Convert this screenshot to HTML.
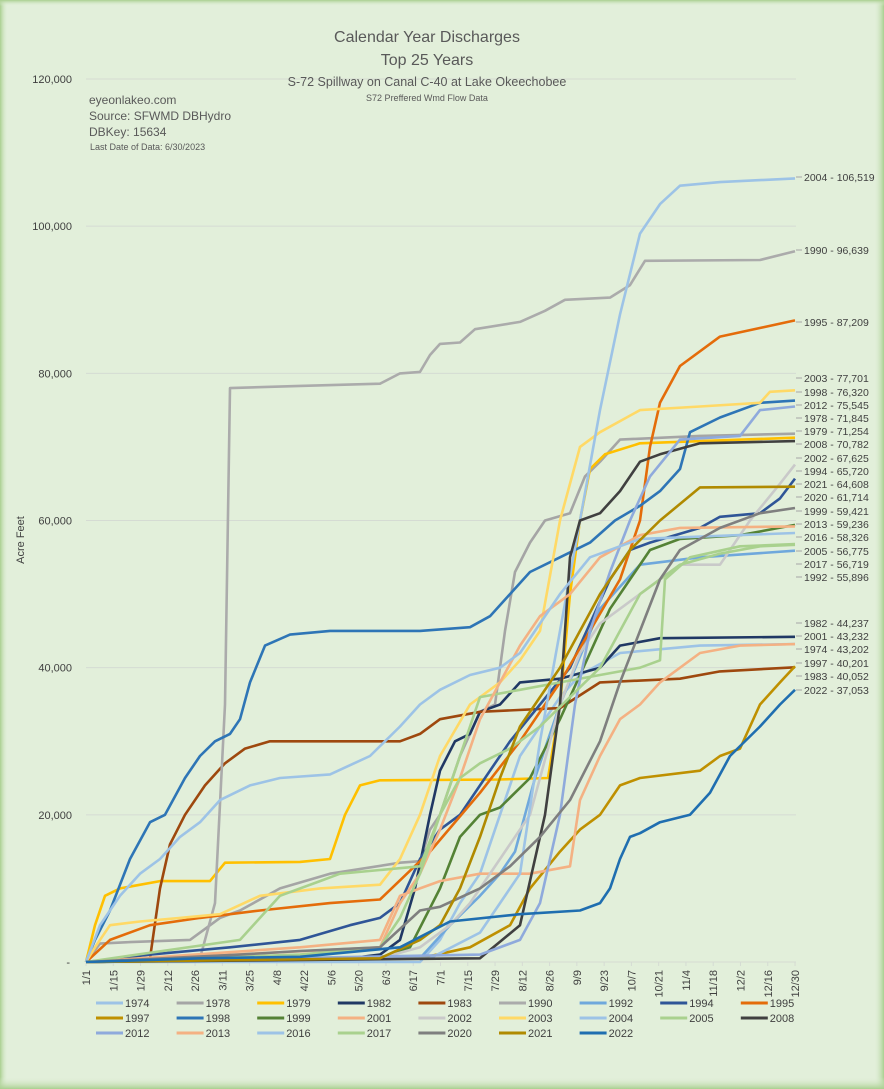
<!DOCTYPE html>
<html><head><meta charset="utf-8"><style>
html,body{margin:0;padding:0;background:#e2efda;}
body{width:884px;height:1089px;overflow:hidden;}
svg{display:block;font-family:"Liberation Sans",sans-serif;}
</style></head><body>
<svg id="c" width="884" height="1089" xmlns="http://www.w3.org/2000/svg">
<defs>
<linearGradient id="gl" x1="0" x2="1"><stop offset="0" stop-color="#a9cf8f"/><stop offset="1" stop-color="#e2efda" stop-opacity="0"/></linearGradient>
<linearGradient id="gr" x1="1" x2="0"><stop offset="0" stop-color="#a9cf8f"/><stop offset="1" stop-color="#e2efda" stop-opacity="0"/></linearGradient>
<linearGradient id="gt" y1="0" y2="1" x1="0" x2="0"><stop offset="0" stop-color="#a9cf8f"/><stop offset="1" stop-color="#e2efda" stop-opacity="0"/></linearGradient>
<linearGradient id="gb" y1="1" y2="0" x1="0" x2="0"><stop offset="0" stop-color="#a9cf8f"/><stop offset="1" stop-color="#e2efda" stop-opacity="0"/></linearGradient>
</defs>
<rect width="884" height="1089" fill="#e2efda"/>
<rect x="0" y="0" width="8" height="1089" fill="url(#gl)"/>
<rect x="874" y="0" width="10" height="1089" fill="url(#gr)"/>
<rect x="0" y="0" width="884" height="6" fill="url(#gt)"/>
<rect x="0" y="1077" width="884" height="12" fill="url(#gb)"/>
<g id="grid"></g>
<text x="427" y="42" font-size="16" fill="#595959" text-anchor="middle">Calendar Year Discharges</text>
<text x="427" y="65" font-size="16" fill="#595959" text-anchor="middle">Top 25 Years</text>
<text x="427" y="86" font-size="12.5" fill="#595959" text-anchor="middle">S-72 Spillway on Canal C-40 at Lake Okeechobee</text>
<text x="427" y="101" font-size="9" fill="#595959" text-anchor="middle">S72 Preffered Wmd Flow Data</text>
<text x="89" y="104" font-size="12" fill="#595959">eyeonlakeo.com</text>
<text x="89" y="120" font-size="12" fill="#595959">Source: SFWMD DBHydro</text>
<text x="89" y="136" font-size="12" fill="#595959">DBKey: 15634</text>
<text x="90" y="150" font-size="9" fill="#595959">Last Date of Data: 6/30/2023</text>
<text transform="translate(24,540) rotate(-90)" font-size="11" fill="#404040" text-anchor="middle">Acre Feet</text>
<g id="series"></g>
<g id="labels"></g>
<g id="legend"></g>
</svg>
<script>
const NS="http://www.w3.org/2000/svg";
function el(t,a,p,txt){const e=document.createElementNS(NS,t);for(const k in a)e.setAttribute(k,a[k]);if(txt!==undefined)e.textContent=txt;document.getElementById(p).appendChild(e);return e;}
const Y=k=>962-k*7.358;
// grid
const yl=["-","20,000","40,000","60,000","80,000","100,000","120,000"];
for(let i=0;i<=6;i++){const y=962-i*147.17;
 el("line",{x1:86,x2:796,y1:y,y2:y,stroke:"#d5dbd3","stroke-width":1},"grid");
 el("text",{x:i?72:70,y:y+4,"font-size":11,fill:"#404040","text-anchor":"end"},"grid",yl[i]);}
const xl=["1/1","1/15","1/29","2/12","2/26","3/11","3/25","4/8","4/22","5/6","5/20","6/3","6/17","7/1","7/15","7/29","8/12","8/26","9/9","9/23","10/7","10/21","11/4","11/18","12/2","12/16","12/30"];
for(let i=0;i<27;i++){const x=86+i*27.27;
 el("line",{x1:x,x2:x,y1:962,y2:966,stroke:"#d5dbd3"},"grid");
 el("text",{transform:`translate(${x+4},${970}) rotate(-90)`,"font-size":11,fill:"#404040","text-anchor":"end"},"grid",xl[i]);}
const S=[
["1974","#9dc3e6",[[86,0],[420,0],[440,3],[460,8],[480,12],[500,20],[520,28],[540,32],[560,36],[580,39],[620,42],[700,43],[795,43.2]]],
["1978","#a5a5a5",[[86,0],[100,2.5],[130,2.7],[190,3],[220,6],[240,7],[280,10],[330,12],[400,13.5],[420,13.7],[430,18],[440,20],[460,28],[480,34],[495,35],[505,45],[515,53],[530,57],[545,60],[570,61],[585,66],[600,68],[620,71],[700,71.5],[795,71.8]]],
["1979","#ffc000",[[86,0],[95,5],[105,9],[120,10],[160,11],[210,11],[225,13.5],[300,13.6],[330,14],[345,20],[360,24],[380,24.7],[500,24.8],[548,25],[560,35],[570,50],[580,60],[590,67],[605,69],[640,70.5],[795,71.25]]],
["1982","#203864",[[86,0],[350,0.5],[380,1],[400,3],[415,10],[430,20],[440,26],[455,30],[470,31],[480,34],[500,35],[520,38],[560,38.5],[600,40],[620,43],[660,44],[795,44.2]]],
["1983","#9e480e",[[86,0],[150,0.5],[160,10],[170,16],[185,20],[205,24],[225,27],[245,29],[270,30],[400,30],[420,31],[440,33],[480,34],[560,34.5],[600,38],[680,38.5],[720,39.5],[795,40.05]]],
["1990","#ababab",[[86,0],[200,0.5],[215,8],[225,35],[230,78],[300,78.3],[380,78.6],[400,80],[420,80.2],[430,82.5],[440,84],[460,84.2],[475,86],[520,87],[545,88.5],[565,90],[610,90.3],[630,92],[645,95.3],[760,95.4],[795,96.6]]],
["1992","#6fa8dc",[[86,0],[420,0.5],[450,5],[480,9],[500,12],[515,15],[525,20],[535,25],[560,35],[600,48],[640,54],[700,55],[795,55.9]]],
["1994","#2f5597",[[86,0],[150,1],[230,2],[300,3],[350,5],[380,6],[400,8],[420,14],[440,18],[460,20],[480,24],[510,30],[540,35],[570,40],[590,46],[610,52],[630,56],[650,57],[700,59],[720,60.5],[760,61],[780,63],[795,65.7]]],
["1995","#e46c0a",[[86,0],[110,3],[150,5],[200,6],[260,7],[330,8],[380,8.5],[430,15],[480,23],[520,30],[560,38],[590,45],[620,52],[640,60],[650,70],[660,76],[680,81],[720,85],[795,87.2]]],
["1997","#bf9000",[[86,0],[420,0.5],[470,2],[510,5],[530,10],[560,15],[580,18],[600,20],[620,24],[640,25],[700,26],[720,28],[740,29],[760,35],[780,38],[795,40.2]]],
["1998","#2e75b6",[[86,0],[95,3],[110,7],[130,14],[150,19],[165,20],[185,25],[200,28],[215,30],[230,31],[240,33],[250,38],[265,43],[290,44.5],[330,45],[420,45],[470,45.5],[490,47],[510,50],[530,53],[560,55],[590,57],[615,60],[640,62],[660,64],[680,67],[690,72],[720,74],[760,76],[795,76.3]]],
["1999","#548235",[[86,0],[380,0.5],[410,2],[440,10],[460,17],[480,20],[500,21],[530,25],[560,33],[590,42],[610,48],[630,52],[650,56],[680,57.5],[740,58],[795,59.4]]],
["2001","#f4b183",[[86,0],[300,2],[380,3],[400,9],[420,10],[440,11],[480,12],[530,12],[570,13],[580,22],[600,28],[620,33],[640,35],[660,38],[700,42],[740,43],[795,43.2]]],
["2002","#c9c9c9",[[86,0],[380,0.5],[420,2],[450,5],[470,8],[500,14],[530,20],[560,35],[580,42],[600,46],[640,50],[680,54],[720,54],[750,60],[780,65],[795,67.6]]],
["2003","#ffd966",[[86,0],[95,2],[110,5],[140,5.5],[180,6],[220,6.5],[260,9],[320,10],[380,10.5],[400,14],[420,20],[440,28],[470,35],[500,38],[520,41],[540,45],[560,60],[580,70],[600,72],[640,75],[700,75.5],[760,76],[770,77.5],[795,77.7]]],
["2004","#9dc3e6",[[86,0],[430,0.5],[480,4],[520,12],[540,30],[560,45],[580,60],[600,75],[620,88],[640,99],[660,103],[680,105.5],[720,106],[795,106.5]]],
["2005","#a9d18e",[[86,0],[240,3],[280,9],[320,11],[340,12],[380,12.5],[420,13],[440,20],[460,28],[480,36],[520,37],[560,38],[600,39],[640,40],[660,41],[665,52],[690,55],[740,56.5],[795,56.8]]],
["2008","#404040",[[86,0],[480,0.5],[520,5],[545,20],[560,35],[570,55],[580,60],[600,61],[620,64],[640,68],[660,69],[700,70.5],[795,70.8]]],
["2012","#8faadc",[[86,0],[480,1],[520,3],[540,8],[560,20],[575,35],[590,45],[610,53],[630,60],[650,66],[680,71],[740,71.5],[760,75],[795,75.5]]],
["2013","#f4b183",[[86,0],[380,2],[400,8],[420,12],[440,18],[460,25],[480,33],[500,38],[520,43],[540,47],[570,50],[600,55],[640,58],[680,59],[795,59.2]]],
["2016","#9dc3e6",[[86,0],[100,5],[120,9],[140,12],[160,14],[180,17],[200,19],[220,22],[250,24],[280,25],[330,25.5],[370,28],[400,32],[420,35],[440,37],[470,39],[500,40],[520,42],[540,46],[560,50],[590,55],[640,57.5],[795,58.3]]],
["2017","#a9d18e",[[86,0],[300,1],[380,2],[400,6],[420,12],[440,20],[460,25],[480,27],[510,29],[540,32],[570,36],[600,40],[640,50],[680,54],[720,55.5],[760,56.5],[795,56.7]]],
["2020","#7f7f7f",[[86,0],[240,1],[300,1.5],[380,2],[420,7],[440,7.5],[480,10],[510,13],[540,17],[570,22],[600,30],[620,38],[640,45],[660,52],[680,56],[720,59],[760,61],[795,61.7]]],
["2021","#b08a00",[[86,0],[380,0.5],[420,3],[440,5],[460,10],[480,17],[500,25],[520,32],[540,36],[560,40],[580,45],[600,50],[630,56],[660,60],[700,64.5],[795,64.6]]],
["2022","#1f6eb0",[[86,0],[200,0.5],[300,0.7],[400,2],[450,5.5],[520,6.5],[580,7],[600,8],[610,10],[620,14],[630,17],[640,17.5],[660,19],[690,20],[710,23],[730,28],[760,32],[780,35],[795,37]]]
];
S.forEach(s=>{el("polyline",{points:s[2].map(p=>p[0]+","+Y(p[1]).toFixed(1)).join(" "),fill:"none",stroke:s[1],"stroke-width":2.6,"stroke-linejoin":"round"},"series");});
const L=[["2004 - 106,519",177],["1990 - 96,639",250],["1995 - 87,209",322],["2003 - 77,701",378],["1998 - 76,320",392],["2012 - 75,545",405],["1978 - 71,845",418],["1979 - 71,254",431],["2008 - 70,782",444],["2002 - 67,625",458],["1994 - 65,720",471],["2021 - 64,608",484],["2020 - 61,714",497],["1999 - 59,421",511],["2013 - 59,236",524],["2016 - 58,326",537],["2005 - 56,775",551],["2017 - 56,719",564],["1992 - 55,896",577],["1982 - 44,237",623],["2001 - 43,232",636],["1974 - 43,202",649],["1997 - 40,201",663],["1983 - 40,052",676],["2022 - 37,053",690]];
L.forEach(l=>{el("line",{x1:796,x2:802,y1:l[1],y2:l[1],stroke:"#a6a6a6"},"labels");
 el("text",{x:804,y:l[1]+4,"font-size":10.5,fill:"#404040"},"labels",l[0]);});
S.forEach((s,i)=>{const r=Math.floor(i/9),c=i%9;const x=96+c*80.6,y=1003+r*15;
 el("line",{x1:x,x2:x+27,y1:y,y2:y,stroke:s[1],"stroke-width":3},"legend");
 el("text",{x:x+29,y:y+4,"font-size":11,fill:"#404040"},"legend",s[0]);});
</script>
</body></html>
